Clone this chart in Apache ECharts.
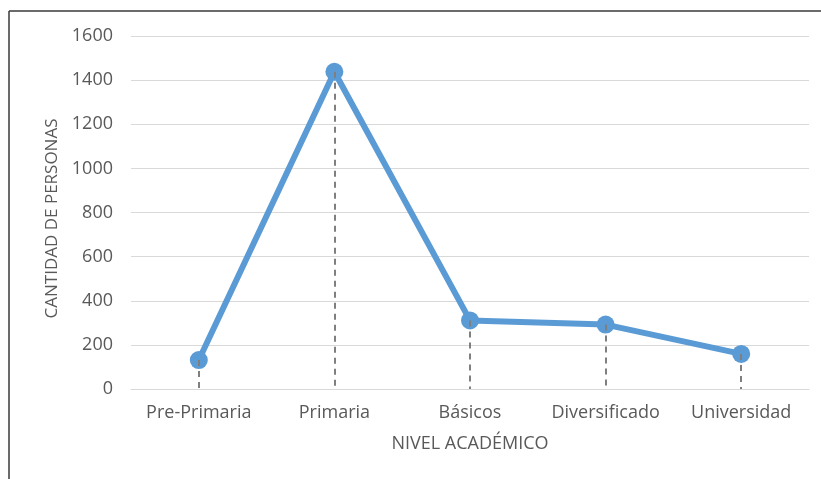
<!DOCTYPE html>
<html>
<head>
<meta charset="utf-8">
<script src="https://cdn.jsdelivr.net/npm/echarts@6/dist/echarts.min.js"></script>
<style>html,body{margin:0;padding:0;background:#fff;}#c{width:821px;height:479px;}</style>
</head>
<body>
<div id="c"></div>
<script>
const categories = ['Pre-Primaria', 'Primaria', 'Básicos', 'Diversificado', 'Universidad'];
const personas = [131, 1438, 311, 292, 159];
const yTicks = { min: 0, max: 1600, interval: 200 };

const chart = echarts.init(document.getElementById('c'));
const font = 'Open Sans, sans-serif';
chart.setOption({
  animation: false,
  backgroundColor: '#fff',
  grid: { left: 131, right: 12, top: 36, bottom: 90, containLabel: false },
  xAxis: {
    type: 'category',
    data: categories,
    boundaryGap: true,
    name: 'NIVEL ACADÉMICO',
    nameLocation: 'middle',
    nameGap: 46,
    nameTextStyle: { color: '#595959', fontSize: 18, fontFamily: font },
    axisLine: { show: true, lineStyle: { color: '#d9d9d9', width: 1 } },
    axisTick: { show: false },
    axisLabel: { color: '#595959', fontSize: 18, fontFamily: font, margin: 15, interval: 0, hideOverlap: false }
  },
  yAxis: {
    type: 'value',
    min: yTicks.min, max: yTicks.max, interval: yTicks.interval,
    name: 'CANTIDAD DE PERSONAS',
    nameLocation: 'middle',
    nameGap: 67,
    nameTextStyle: { color: '#595959', fontSize: 17, fontFamily: font, padding: [0, 12, 0, 0] },
    axisLine: { show: false },
    axisTick: { show: false },
    axisLabel: { color: '#595959', fontSize: 18, fontFamily: font, margin: 18, formatter: v => String(v) },
    splitLine: { lineStyle: { color: '#d9d9d9', width: 1 } }
  },
  series: [{
    type: 'line',
    data: personas,
    symbol: 'circle',
    symbolSize: 18,
    lineStyle: { color: '#5b9bd5', width: 6 },
    itemStyle: { color: '#5b9bd5' },
    markLine: {
      silent: true,
      symbol: 'none',
      z: 10,
      label: { show: false },
      lineStyle: { color: '#7f7f7f', width: 2, type: [6, 5] },
      data: personas.map((v, i) => [{ coord: [i, v] }, { coord: [i, 0] }])
    }
  }],
  graphic: [
    { type: 'line', shape: { x1: 9, y1: 11, x2: 821, y2: 11 }, style: { stroke: '#3a3a3a', lineWidth: 1.5 } },
    { type: 'line', shape: { x1: 9, y1: 11, x2: 9, y2: 479 }, style: { stroke: '#3a3a3a', lineWidth: 1.5 } }
  ]
});
</script>
</body>
</html>
